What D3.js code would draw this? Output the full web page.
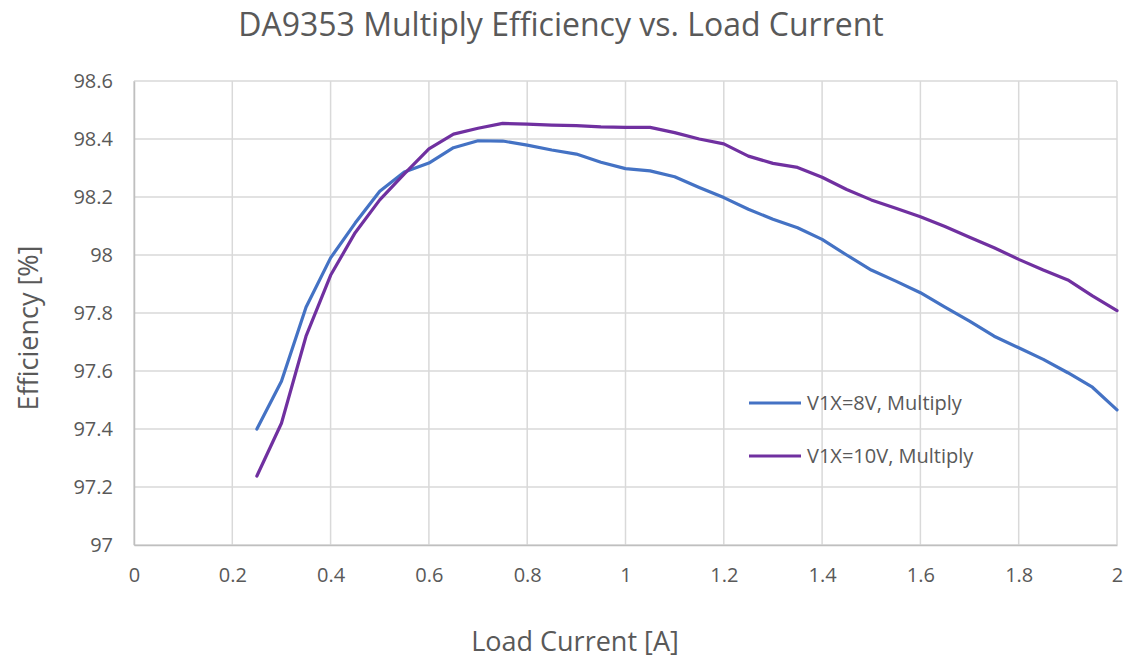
<!DOCTYPE html>
<html><head><meta charset="utf-8">
<script src="https://cdn.jsdelivr.net/npm/d3@7"></script>
<style>
html,body{margin:0;padding:0;background:#fff;}
text{font-family:"Open Sans","Noto Sans",sans-serif;fill:#595959;}
</style></head>
<body><svg id="c" width="1129" height="659"></svg>
<script>
const loadCurrent = [0.25,0.30,0.35,0.40,0.45,0.50,0.55,0.60,0.65,0.70,0.75,0.80,0.85,0.90,0.95,1.00,1.05,1.10,1.15,1.20,1.25,1.30,1.35,1.40,1.45,1.50,1.55,1.60,1.65,1.70,1.75,1.80,1.85,1.90,1.95,2.00];
const eff8V = [97.40,97.565,97.82,97.99,98.11,98.22,98.286,98.317,98.37,98.394,98.393,98.379,98.362,98.348,98.32,98.298,98.29,98.27,98.233,98.198,98.158,98.123,98.094,98.054,98.0,97.948,97.91,97.87,97.82,97.772,97.72,97.68,97.64,97.594,97.544,97.466];
const eff10V = [97.238,97.42,97.72,97.93,98.077,98.19,98.28,98.366,98.417,98.437,98.454,98.451,98.448,98.446,98.442,98.44,98.44,98.422,98.40,98.383,98.341,98.316,98.302,98.268,98.226,98.19,98.161,98.132,98.098,98.061,98.025,97.985,97.948,97.914,97.859,97.808];
const seriesNames = ["V1X=8V, Multiply","V1X=10V, Multiply"];
const xTicks = [0,0.2,0.4,0.6,0.8,1,1.2,1.4,1.6,1.8,2];
const yTicks = [97,97.2,97.4,97.6,97.8,98,98.2,98.4,98.6];
const title = "DA9353 Multiply Efficiency vs. Load Current";
const xTitle = "Load Current [A]";
const yTitle = "Efficiency [%]";

const colors = ["#4472C4","#7030A0"];
const svg = d3.select("#c");
const L=134,R=1117,T=81,B=545;
const x = d3.scaleLinear().domain([0,2]).range([L,R]);
const y = d3.scaleLinear().domain([97,98.6]).range([B,T]);

// gridlines
svg.append("g").selectAll("line").data(yTicks).join("line")
  .attr("x1",L).attr("x2",R).attr("y1",d=>y(d)).attr("y2",d=>y(d))
  .attr("stroke","#d9d9d9").attr("stroke-width",1.5);
svg.append("g").selectAll("line").data(xTicks).join("line")
  .attr("y1",T).attr("y2",B).attr("x1",d=>x(d)).attr("x2",d=>x(d))
  .attr("stroke","#d9d9d9").attr("stroke-width",1.5);

// axes
const fmt = d=>String(+d.toFixed(1));
const xa = svg.append("g").attr("transform",`translate(0,${B})`)
  .call(d3.axisBottom(x).tickValues(xTicks).tickFormat(fmt).tickSize(0).tickPadding(23));
xa.select(".domain").attr("stroke","#bfbfbf").attr("stroke-width",1.5);
xa.selectAll("text").style("font-size","20px").attr("fill","#595959");
const ya = svg.append("g").attr("transform",`translate(${L},0)`)
  .call(d3.axisLeft(y).tickValues(yTicks).tickFormat(fmt).tickSize(0).tickPadding(21));
ya.select(".domain").attr("stroke","#bfbfbf").attr("stroke-width",1.5);
ya.selectAll("text").style("font-size","20px").attr("fill","#595959");

// lines
const line = d3.line().x((d,i)=>x(loadCurrent[i])).y(d=>y(d));
[eff8V,eff10V].forEach((s,k)=>{
  svg.append("path").datum(s).attr("d",line).attr("fill","none")
    .attr("stroke",colors[k]).attr("stroke-width",3.2)
    .attr("stroke-linejoin","round").attr("stroke-linecap","round");
});

// legend
const lg = svg.append("g");
seriesNames.forEach((n,k)=>{
  const yy = 403 + k*53;
  lg.append("line").attr("x1",749).attr("x2",801).attr("y1",yy).attr("y2",yy)
    .attr("stroke",colors[k]).attr("stroke-width",3.2);
  lg.append("text").attr("x",807).attr("y",yy).attr("dy","0.35em")
    .style("font-size","20px").text(n);
});

// titles
svg.append("text").attr("x",561).attr("y",36).attr("text-anchor","middle")
  .style("font-size","32px").text(title);
svg.append("text").attr("x",575).attr("y",651).attr("text-anchor","middle")
  .style("font-size","27px").text(xTitle);
svg.append("text").attr("transform","translate(38,328) rotate(-90)").attr("text-anchor","middle")
  .style("font-size","27px").text(yTitle);
</script></body></html>
